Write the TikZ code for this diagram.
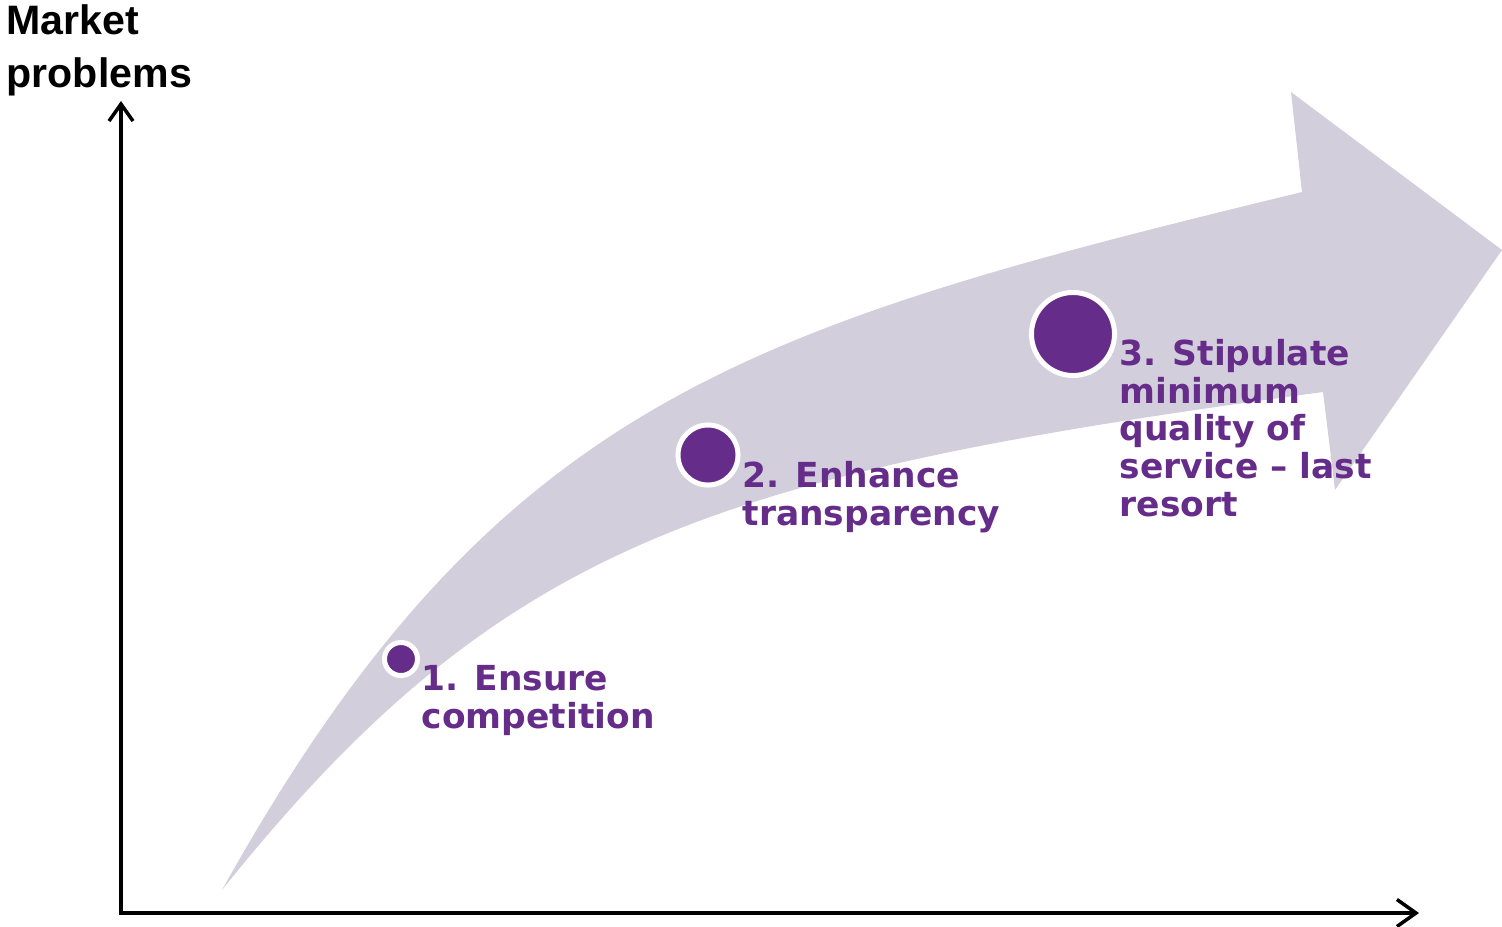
\documentclass[tikz,border=0pt]{standalone}
\usepackage{fontspec}
\setmainfont{DejaVu Sans}
\newfontfamily\titlefont{Liberation Sans}
\usetikzlibrary{arrows.meta}
\definecolor{bandgray}{HTML}{D3CEDC}
\definecolor{dotpurple}{HTML}{652C8A}
\begin{document}
\begin{tikzpicture}[x=0.01cm,y=-0.01cm,
  dot/.style={circle, fill=dotpurple, draw=white, line width=0.05cm, inner sep=0pt},
  lbl/.style={anchor=base west, inner sep=0pt, align=left, text=dotpurple,
    font=\bfseries\fontsize{9.8pt}{10.7pt}\selectfont},
  axis/.style={line width=1pt, {Straight Barb[length=0.17cm,width=0.24cm]}-{Straight Barb[length=0.19cm,width=0.27cm]}}]
\useasboundingbox (0,0) rectangle (1502,927);
\fill[bandgray] (222,890) .. controls (495,400) and (747,327) .. (1302,192)
  -- (1291,92) -- (1502,250) -- (1335,490) -- (1323,392)
  .. controls (717,474) and (502,540) .. (222,890) -- cycle;
\coordinate (ytop) at (121,101);
\coordinate (origin) at (121,913);
\coordinate (xend) at (1419,913);
\draw[axis] (ytop) -- (origin) -- (xend);
\node[anchor=base west, inner sep=0pt, align=left, font=\titlefont\bfseries\fontsize{11.7pt}{14.8pt}\selectfont] (title) at (6,87) {Market\\problems};
\node[dot, minimum size=0.33cm] (d1) at (401,659) {};
\node[dot, minimum size=0.60cm] (d2) at (708,455) {};
\node[dot, minimum size=0.83cm] (d3) at (1073,334) {};
\node[lbl] (t1) at (421,728) {1. Ensure\\competition};
\node[lbl] (t2) at (742,525) {2. Enhance\\transparency};
\node[lbl] (t3) at (1119,516) {3. Stipulate\\minimum\\quality of\\service -- last\\resort};
\end{tikzpicture}
\end{document}
